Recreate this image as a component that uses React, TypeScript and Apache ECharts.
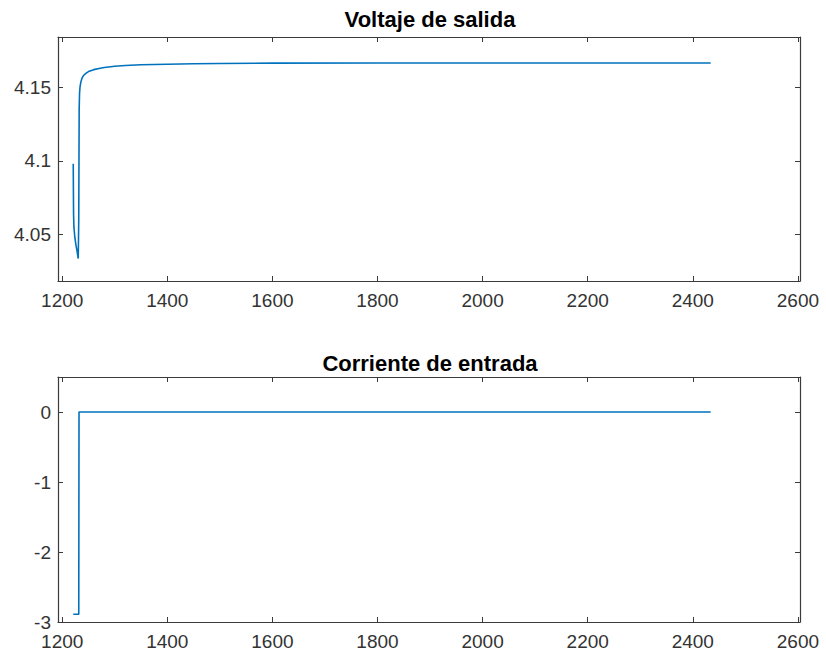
import React, { useEffect, useRef } from "react";
import * as echarts from "echarts";

const titles = ["Voltaje de salida", "Corriente de entrada"];
const xTicks = [1200, 1400, 1600, 1800, 2000, 2200, 2400, 2600];
const vTicks = [4.05, 4.1, 4.15];
const iTicks = [-3, -2, -1, 0];

const voltX = [1221, 1221.3, 1221.6, 1222.3, 1224, 1226, 1228.5, 1230.5, 1231.5, 1231.9, 1232.3, 1233, 1234, 1235.5, 1237.5, 1240.5, 1245, 1250, 1260, 1270, 1280, 1300, 1320, 1350, 1400, 1450, 1500, 1600, 1800, 2000, 2200, 2434];
const voltY = [4.098, 4.08, 4.064, 4.055, 4.048, 4.043, 4.038, 4.0335, 4.06, 4.1, 4.135, 4.146, 4.1505, 4.1535, 4.156, 4.158, 4.1595, 4.1607, 4.162, 4.1628, 4.1635, 4.1643, 4.1648, 4.1653, 4.1657, 4.166, 4.1662, 4.1664, 4.1665, 4.1665, 4.1665, 4.1665];

const currX = [1221, 1231.5, 1232, 2434];
const currY = [-2.89, -2.89, 0, 0];

const FONT = "'Liberation Sans', Arial, sans-serif";
const AX = "#3a3a3a";
const TXT = "#333333";

function xAx(gridIndex: number, pos: "bottom" | "top", labels: boolean) {
  return {
    type: "value",
    gridIndex,
    position: pos,
    min: 1192,
    max: 2604,
    axisLine: { show: true, onZero: false, lineStyle: { color: AX, width: 1.2 } },
    axisTick: { show: true, inside: true, length: 5, customValues: xTicks, lineStyle: { color: AX } },
    axisLabel: {
      show: labels,
      customValues: xTicks,
      formatter: (v: number) => String(v),
      color: TXT,
      fontSize: 19,
      fontFamily: FONT,
      margin: 10,
    },
    splitLine: { show: false },
  };
}

function yAx(gridIndex: number, pos: "left" | "right", labels: boolean, min: number, max: number, ticks: number[]) {
  return {
    type: "value",
    gridIndex,
    position: pos,
    min,
    max,
    axisLine: { show: true, onZero: false, lineStyle: { color: AX, width: 1.2 } },
    axisTick: { show: true, inside: true, length: 5, customValues: ticks, lineStyle: { color: AX } },
    axisLabel: {
      show: labels,
      customValues: ticks,
      formatter: (v: number) => String(v),
      color: TXT,
      fontSize: 19,
      fontFamily: FONT,
      margin: 7,
    },
    splitLine: { show: false },
  };
}

export default function App() {
  const ref = useRef<HTMLDivElement>(null);
  useEffect(() => {
    if (!ref.current) return;
    const chart = echarts.init(ref.current, undefined, { renderer: "svg" });
    const voltData = voltX.map((x, i) => [x, voltY[i]]);
    const currData = currX.map((x, i) => [x, currY[i]]);
    chart.setOption({
      animation: false,
      backgroundColor: "#ffffff",
      grid: [
        { left: 58, width: 742, top: 37, height: 244 },
        { left: 58, width: 742, top: 377, height: 245 },
      ],
      xAxis: [xAx(0, "bottom", true), xAx(0, "top", false), xAx(1, "bottom", true), xAx(1, "top", false)],
      yAxis: [
        yAx(0, "left", true, 4.0182, 4.1842, vTicks),
        yAx(0, "right", false, 4.0182, 4.1842, vTicks),
        yAx(1, "left", true, -3, 0.5, iTicks),
        yAx(1, "right", false, -3, 0.5, iTicks),
      ],
      graphic: [
        {
          type: "text",
          x: 430,
          y: 19,
          style: { text: titles[0], fontSize: 22, fontWeight: "bold", fontFamily: FONT, fill: "#000", textAlign: "center", textVerticalAlign: "middle" },
        },
        {
          type: "text",
          x: 430,
          y: 363,
          style: { text: titles[1], fontSize: 22, fontWeight: "bold", fontFamily: FONT, fill: "#000", textAlign: "center", textVerticalAlign: "middle" },
        },
      ],
      series: [
        {
          type: "line",
          xAxisIndex: 0,
          yAxisIndex: 0,
          data: voltData,
          showSymbol: false,
          symbol: "none",
          lineStyle: { color: "#0072BD", width: 1.6 },
        },
        {
          type: "line",
          xAxisIndex: 2,
          yAxisIndex: 2,
          data: currData,
          showSymbol: false,
          symbol: "none",
          lineStyle: { color: "#0072BD", width: 1.6 },
        },
      ],
    });
    return () => chart.dispose();
  }, []);
  return <div ref={ref} style={{ position: "fixed", left: 0, top: 0, width: 826, height: 654 }} />;
}
